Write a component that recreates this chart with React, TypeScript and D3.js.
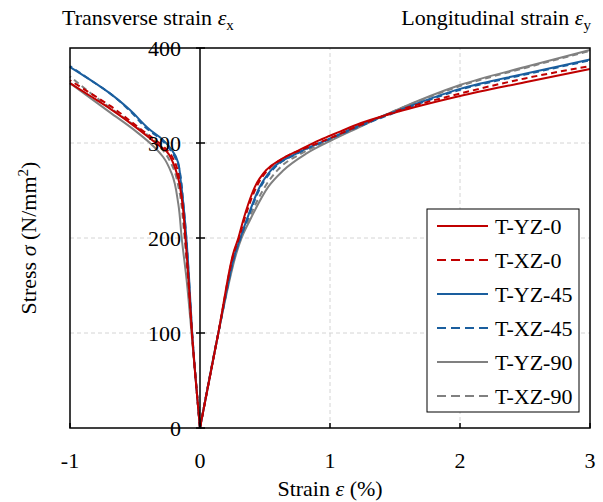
import React from "react";
import * as d3 from "d3";

type Pt = [number, number];

const seriesNames = ["T-YZ-0", "T-XZ-0", "T-YZ-45", "T-XZ-45", "T-YZ-90", "T-XZ-90"];
const seriesColors = ["#C00000", "#C00000", "#1A5E9E", "#1A5E9E", "#808080", "#808080"];
const seriesDashed = [false, true, false, true, false, true];

// Transverse branch (strain εx, %, negative), stress N/mm²
const transYZ0: Pt[] = [[0, 0], [-0.062, 100], [-0.09, 160], [-0.112, 200], [-0.135, 236], [-0.17, 264], [-0.21, 280], [-0.256, 291], [-0.35, 301], [-0.45, 312], [-0.69, 336], [-0.85, 350], [-1, 363]];
const transXZ0: Pt[] = [[0, 0], [-0.062, 100], [-0.092, 160], [-0.114, 200], [-0.135, 236], [-0.154, 256], [-0.18, 275], [-0.256, 293], [-0.36, 305], [-0.45, 314], [-0.69, 339], [-0.85, 353], [-1, 366]];
const transYZ45: Pt[] = [[0, 0], [-0.06, 100], [-0.085, 160], [-0.105, 200], [-0.128, 236], [-0.15, 262], [-0.167, 279], [-0.218, 293], [-0.308, 306], [-0.385, 314], [-0.54, 335], [-0.69, 352], [-0.85, 367], [-1, 380]];
const transXZ45: Pt[] = [[0, 0], [-0.06, 100], [-0.086, 158], [-0.104, 198], [-0.127, 234], [-0.165, 276], [-0.22, 291], [-0.31, 305], [-0.39, 313], [-0.54, 334], [-0.69, 352], [-0.85, 367], [-1, 381]];
const transYZ90: Pt[] = [[0, 0], [-0.065, 100], [-0.103, 156], [-0.141, 200], [-0.167, 236], [-0.218, 268], [-0.282, 285], [-0.385, 300], [-0.49, 312], [-0.69, 332], [-0.85, 348], [-1, 363]];
const transXZ90: Pt[] = [[0, 0], [-0.063, 100], [-0.1, 170], [-0.125, 210], [-0.16, 250], [-0.21, 275], [-0.3, 295], [-0.4, 308], [-0.54, 322], [-0.77, 345], [-1, 370]];

// Longitudinal branch (strain εy, %)
const longYZ0: Pt[] = [[0, 0], [0.141, 100], [0.256, 184], [0.295, 200], [0.333, 219], [0.372, 236], [0.423, 254], [0.513, 272], [0.615, 282], [0.77, 293], [0.92, 303], [1.077, 312], [1.2, 319], [1.5, 332], [2, 349.5], [2.5, 364], [3, 378]];
const longXZ0: Pt[] = [[0, 0], [0.141, 100], [0.26, 184], [0.3, 200], [0.34, 219], [0.435, 254], [0.525, 272], [0.64, 284], [0.8, 294], [1, 305], [1.2, 317], [1.5, 333], [2, 352], [2.5, 368], [3, 381]];
const longYZ45: Pt[] = [[0, 0], [0.141, 100], [0.27, 184], [0.31, 200], [0.359, 219], [0.46, 254], [0.55, 272], [0.744, 289], [0.97, 303], [1.2, 317], [1.5, 333], [2, 357], [2.5, 373], [3, 388]];
const longXZ45: Pt[] = [[0, 0], [0.141, 100], [0.272, 184], [0.312, 200], [0.362, 219], [0.468, 254], [0.56, 272], [0.75, 289], [0.98, 303], [1.2, 316], [1.5, 332], [2, 356], [2.5, 372], [3, 387]];
const longYZ90: Pt[] = [[0, 0], [0.141, 100], [0.28, 184], [0.32, 200], [0.385, 219], [0.526, 254], [0.64, 271], [0.82, 289], [1, 302], [1.2, 315], [1.5, 334], [2, 361], [2.5, 380], [3, 398]];
const longXZ90: Pt[] = [[0, 0], [0.141, 100], [0.275, 184], [0.315, 200], [0.372, 219], [0.5, 254], [0.6, 272], [0.78, 289], [1, 303], [1.2, 316], [1.5, 334], [2, 360], [2.5, 379], [3, 397]];

const transverse = [transYZ0, transXZ0, transYZ45, transXZ45, transYZ90, transXZ90];
const longitudinal = [longYZ0, longXZ0, longYZ45, longXZ45, longYZ90, longXZ90];

const xTicks = [-1, 0, 1, 2, 3];
const yTicks = [0, 100, 200, 300, 400];
const xGrid = [1, 2];
const yGrid = [100, 200, 300];

const FONT = "Liberation Serif";

export default function App() {
  const W = 603, H = 502;
  const x = d3.scaleLinear().domain([-1, 3]).range([70, 590]);
  const y = d3.scaleLinear().domain([0, 400]).range([428, 48]);
  const lineL = d3.line<Pt>().x(d => x(d[0])).y(d => y(d[1])).curve(d3.curveMonotoneX);
  const lineT = d3.line<Pt>().x(d => x(d[0])).y(d => y(d[1])).curve(d3.curveMonotoneY);

  const drawOrder = [4, 5, 2, 3, 0, 1];
  const tp = { fontFamily: FONT, fontSize: 22, fill: "#000" } as const;

  return (
    <svg width={W} height={H} style={{ position: "absolute", left: 0, top: 0 }} fontFamily={FONT}>
      <rect x={0} y={0} width={W} height={H} fill="#fff" />
      {yGrid.map(v => (
        <line key={"gy" + v} x1={x(-1)} x2={x(3)} y1={y(v)} y2={y(v)} stroke="#d4d4d4" strokeWidth={1} strokeDasharray="4,3" />
      ))}
      {xGrid.map(v => (
        <line key={"gx" + v} x1={x(v)} x2={x(v)} y1={y(0)} y2={y(400)} stroke="#d4d4d4" strokeWidth={1} strokeDasharray="4,3" />
      ))}
      {drawOrder.map(i => (
        <g key={"s" + i}>
          <path d={lineT([...transverse[i]].sort((a, b) => a[1] - b[1])) || ""} fill="none" stroke={seriesColors[i]} strokeWidth={2}
            strokeDasharray={seriesDashed[i] ? "6,4" : undefined} />
          <path d={lineL(longitudinal[i]) || ""} fill="none" stroke={seriesColors[i]} strokeWidth={2}
            strokeDasharray={seriesDashed[i] ? "6,4" : undefined} />
        </g>
      ))}
      <rect x={x(-1)} y={y(400)} width={x(3) - x(-1)} height={y(0) - y(400)} fill="none" stroke="#000" strokeWidth={1.5} />
      <line x1={x(0)} x2={x(0)} y1={y(0)} y2={y(400)} stroke="#000" strokeWidth={1.5} />
      {yTicks.map(v => (
        <line key={"yt" + v} x1={x(0) - 4} x2={x(0) + 5} y1={y(v)} y2={y(v)} stroke="#000" strokeWidth={1.5} />
      ))}
      {xTicks.map(v => (
        <line key={"xt" + v} x1={x(v)} x2={x(v)} y1={y(0)} y2={y(0) - 5} stroke="#000" strokeWidth={1.5} />
      ))}
      {yTicks.map(v => (
        <text key={"yl" + v} {...tp} x={x(0) - 19} y={y(v)} dy="0.35em" textAnchor="end">{v}</text>
      ))}
      {xTicks.map(v => (
        <text key={"xl" + v} {...tp} x={x(v)} y={y(0) + 32} dy="0.35em" textAnchor="middle">{v}</text>
      ))}
      <text {...tp} x={330} y={496} textAnchor="middle">
        Strain <tspan fontStyle="italic">ε</tspan> (%)
      </text>
      <text {...tp} transform={`translate(36,${y(200)}) rotate(-90)`} textAnchor="middle">
        Stress <tspan fontStyle="italic">σ</tspan> (N/mm<tspan dy="-8" fontSize={15}>2</tspan><tspan dy="8">)</tspan>
      </text>
      <text {...tp} x={62} y={25}>
        Transverse strain <tspan fontStyle="italic">ε</tspan><tspan dy="5" fontSize={15}>x</tspan>
      </text>
      <text {...tp} x={591} y={25} textAnchor="end">
        Longitudinal strain <tspan fontStyle="italic">ε</tspan><tspan dy="5" fontSize={15}>y</tspan>
      </text>
      <rect x={427} y={209} width={152} height={203} fill="#fff" stroke="#000" strokeWidth={1} />
      {seriesNames.map((n, i) => (
        <g key={"lg" + i}>
          <line x1={437} x2={488} y1={226 + 34 * i} y2={226 + 34 * i} stroke={seriesColors[i]} strokeWidth={2}
            strokeDasharray={seriesDashed[i] ? "9,5" : undefined} />
          <text {...tp} x={495} y={226 + 34 * i} dy="0.35em">{n}</text>
        </g>
      ))}
    </svg>
  );
}
